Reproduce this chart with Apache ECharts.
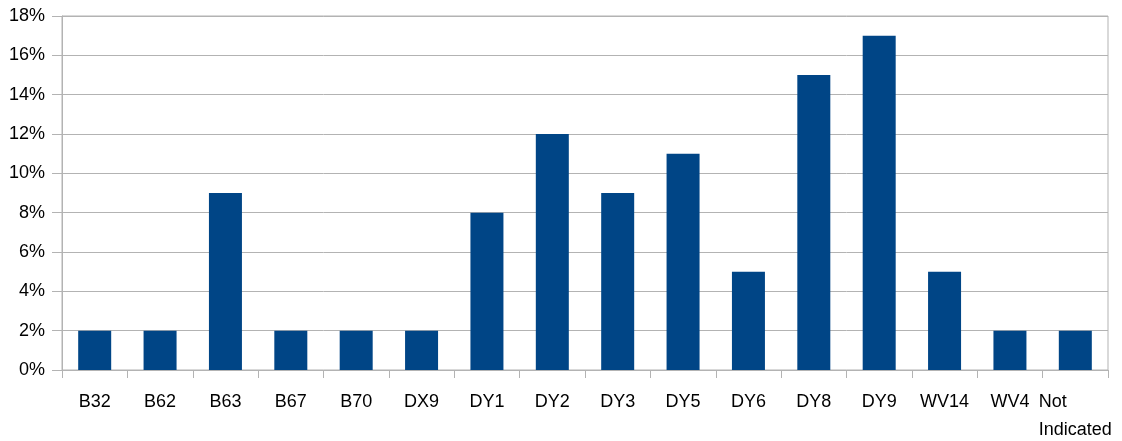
<!DOCTYPE html>
<html>
<head>
<meta charset="utf-8">
<script src="https://cdn.jsdelivr.net/npm/echarts@6/dist/echarts.min.js"></script>
<style>
  html, body { margin: 0; padding: 0; background: #fff; }
  #chart { width: 1122px; height: 441px; }
</style>
</head>
<body>
<div id="chart"></div>
<script>
// Share of records per code (percent)
const categories = ['B32', 'B62', 'B63', 'B67', 'B70', 'DX9', 'DY1', 'DY2', 'DY3', 'DY5', 'DY6', 'DY8', 'DY9', 'WV14', 'WV4', 'Not Indicated'];
const shares = [2, 2, 9, 2, 2, 2, 8, 12, 9, 11, 5, 15, 17, 5, 2, 2];
const yTicks = { min: 0, max: 18, step: 2 };

const gray = '#b3b3b3';
const font = '"Liberation Sans", Arial, sans-serif';

const chart = echarts.init(document.getElementById('chart'), null, { renderer: 'canvas' });
chart.setOption({
  animation: false,
  backgroundColor: '#ffffff',
  grid: {
    left: 62, right: 14, top: 16, bottom: 71,
    outerBoundsMode: 'none',
    containLabel: false,
    show: true, borderColor: gray, borderWidth: 1, backgroundColor: 'transparent'
  },
  xAxis: {
    type: 'category',
    data: categories,
    axisLine: { lineStyle: { color: gray, width: 1 } },
    axisTick: { show: true, length: 8, lineStyle: { color: gray } },
    axisLabel: {
      interval: 0,
      margin: 18,
      color: '#000',
      fontFamily: font,
      fontSize: 18,
      lineHeight: 28,
      formatter: function (v) {
        // two-word names wrap: first line sits at the left of the block
        if (v.indexOf(' ') > -1) {
          const parts = v.split(' ');
          return '{l|' + parts[0] + '}\n{c|' + parts[1] + '}';
        }
        return v;
      },
      rich: {
        l: { align: 'left', fontFamily: font, fontSize: 18, lineHeight: 28, color: '#000' },
        c: { align: 'center', fontFamily: font, fontSize: 18, lineHeight: 28, color: '#000' }
      }
    },
    splitLine: { show: false }
  },
  yAxis: {
    type: 'value',
    min: yTicks.min,
    max: yTicks.max,
    interval: yTicks.step,
    axisLine: { show: true, lineStyle: { color: gray, width: 1 } },
    axisTick: { show: true, length: 10, lineStyle: { color: gray } },
    axisLabel: {
      margin: 17,
      color: '#000',
      fontFamily: font,
      fontSize: 18,
      formatter: '{value}%'
    },
    splitLine: { show: true, lineStyle: { color: gray, width: 1 } }
  },
  series: [{
    type: 'bar',
    data: shares,
    barWidth: 33,
    itemStyle: { color: '#004586' }
  }]
});
</script>
</body>
</html>
